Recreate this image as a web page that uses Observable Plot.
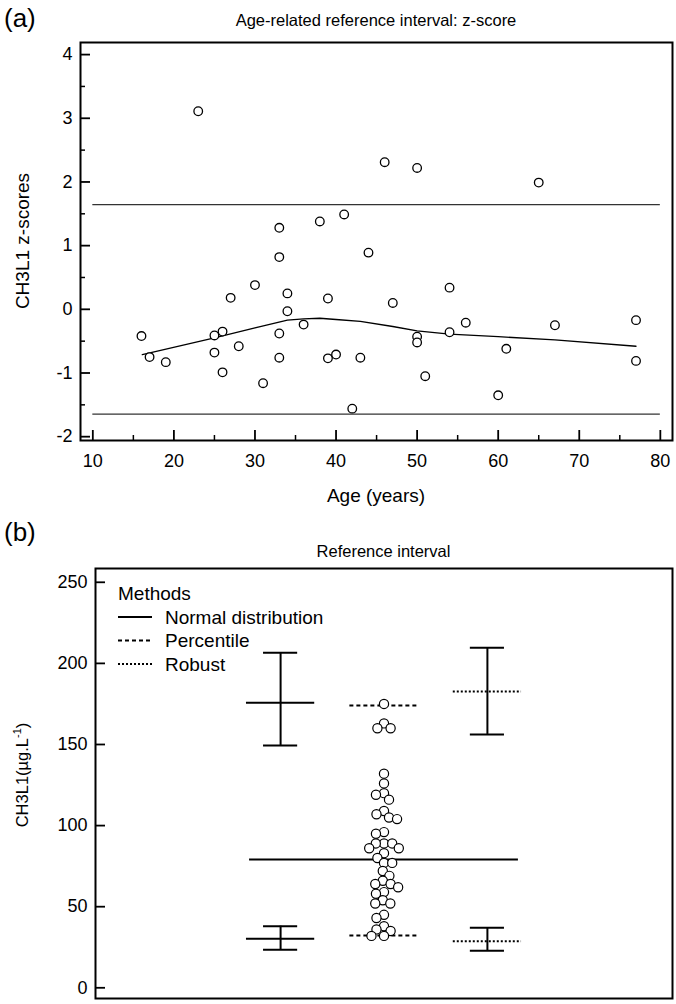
<!DOCTYPE html>
<html><head><meta charset="utf-8">
<script src="https://cdn.jsdelivr.net/npm/d3@7"></script>
<script src="https://cdn.jsdelivr.net/npm/@observablehq/plot@0.6"></script>
<style>
body{margin:0;background:#fff;}
#root{position:relative;width:676px;height:1004px;background:#fff;}
#root svg{position:absolute;left:0;overflow:visible;max-width:none;}
</style></head><body><div id="root"></div>
<script>
// ---------- Panel (a) data ----------
const ages = [16,17,19,23,25,25,26,26,27,28,30,31,33,33,33,33,34,34,36,38,39,39,40,41,42,43,44,46,47,50,50,50,51,54,54,56,60,61,65,67,77,77];
const zscores = [-0.42,-0.75,-0.83,3.11,-0.41,-0.68,-0.35,-0.99,0.18,-0.58,0.38,-1.16,1.28,0.82,-0.38,-0.76,0.25,-0.03,-0.24,1.38,0.17,-0.77,-0.71,1.49,-1.56,-0.76,0.89,2.31,0.10,2.22,-0.43,-0.52,-1.05,0.34,-0.36,-0.21,-1.35,-0.62,1.99,-0.25,-0.17,-0.81];
const smoothAge = [16.1,25,30,34,36,38,40,43,47,50,54,60,67,77];
const smoothZ = [-0.71,-0.45,-0.29,-0.17,-0.15,-0.14,-0.16,-0.19,-0.27,-0.34,-0.39,-0.43,-0.48,-0.58];
const refLimits = [-1.645, 1.645];
const refAgeRange = [10, 80];
const xMajorA = [10,20,30,40,50,60,70,80];
const xMinorA = [15,25,35,45,55,65,75];
const yMajorA = [-2,-1,0,1,2,3,4];
const yMinorA = [-1.5,-0.5,0.5,1.5,2.5,3.5];

// ---------- Panel (b) data ----------
const methods = ["Normal distribution","Percentile","Robust"];
const methodPos = [1,2,3];
const lowerLimit = [30.2, 32.2, 28.7];
const upperLimit = [175.7, 174.0, 182.7];
const ciMethods = ["Normal distribution","Robust"];
const ciPos = [1,3];
const lowerCILo = [23.4, 22.8];
const lowerCIHi = [38.0, 37.0];
const upperCILo = [149.4, 156.2];
const upperCIHi = [206.5, 209.6];
const centralValue = [79.1];
const values = [175,163,160,160,132,126,120,119,116,109,107,105,104,96,95,89,89,89,86,86,83,80,77,77,72,69,66,64,64,62,59,58,54,52,52,45,43,38,36,35,32,32];
const yTicksB = [0,50,100,150,200,250];

// ---------- styles ----------
const FONT = '"Liberation Sans", Arial, Helvetica, sans-serif';
const dashes = [null, "4,3", "2,2"];
const limitHalf = 0.33, capHalf = 0.165;
const centralSpan = [0.70, 3.30];
const TICK_FS = 18, LABEL_FS = 19, TITLE_FS = 16.5;

const root = document.getElementById("root");
const fmt = d => String(d);

// ---------- Panel (a) ----------
const A = {w: 676, h: 520, mt: 42, mb: 80, ml: 80, mr: 4};
const fwA = A.w - A.ml - A.mr, fhA = A.h - A.mt - A.mb;
const idxA = d3.range(ages.length);
const idxS = d3.range(smoothAge.length);
const plotA = Plot.plot({
  width: A.w, height: A.h,
  marginTop: A.mt, marginBottom: A.mb, marginLeft: A.ml, marginRight: A.mr,
  style: {fontFamily: FONT, fontSize: TICK_FS + "px", color: "black", background: "white"},
  x: {domain: [8.48, 81.5]},
  y: {domain: [-2.06, 4.19]},
  marks: [
    Plot.ruleY(refLimits, {y: d => d, x1: () => refAgeRange[0], x2: () => refAgeRange[1], stroke: "#333", strokeWidth: 1.3}),
    Plot.line(idxS, {x: i => smoothAge[i], y: i => smoothZ[i], stroke: "black", strokeWidth: 1.3}),
    Plot.dot(idxA, {x: i => ages[i], y: i => zscores[i], r: 4.3, fill: "white", stroke: "black", strokeWidth: 1.3}),
    Plot.tickY(yMajorA, {y: d => d, insetRight: fwA - 10, strokeWidth: 1.8}),
    Plot.tickY(yMinorA, {y: d => d, insetRight: fwA - 5, strokeWidth: 1.5}),
    Plot.tickX(xMajorA, {x: d => d, insetTop: fhA - 10, strokeWidth: 1.8}),
    Plot.tickX(xMinorA, {x: d => d, insetTop: fhA - 5, strokeWidth: 1.5}),
    Plot.axisY(yMajorA, {tickSize: 0, tickPadding: 8, label: null, fontSize: TICK_FS, tickFormat: fmt}),
    Plot.axisX(xMajorA, {tickSize: 0, tickPadding: 14, label: null, fontSize: TICK_FS, tickFormat: fmt}),
    Plot.frame({stroke: "black", strokeWidth: 2})
  ]
});
plotA.style.top = "0px";
root.appendChild(plotA);
const sa = d3.select(plotA);
const txt = (sel) => sel.append("text").attr("font-family", FONT).attr("fill", "black");
txt(sa).attr("x", 4).attr("y", 27).attr("font-size", 26).attr("text-anchor", "start").text("(a)");
txt(sa).attr("x", A.ml + fwA/2).attr("y", 26).attr("font-size", TITLE_FS).attr("text-anchor", "middle").text("Age-related reference interval: z-score");
txt(sa).attr("x", A.ml + fwA/2).attr("y", 502).attr("font-size", LABEL_FS).attr("text-anchor", "middle").text("Age (years)");
txt(sa).attr("transform", `translate(22,${A.mt + fhA/2}) rotate(-90)`).attr("dy", "0.35em").attr("font-size", LABEL_FS).attr("text-anchor", "middle").text("CH3L1 z-scores");

// ---------- Panel (b) ----------
const B = {top: 520, w: 676, h: 484, mt: 48, mb: 6, ml: 95, mr: 4};
const fwB = B.w - B.ml - B.mr, fhB = B.h - B.mt - B.mb;
const limitMarks = methods.map((m, i) =>
  Plot.ruleY([lowerLimit[i], upperLimit[i]], {y: d => d, x1: () => methodPos[i] - limitHalf, x2: () => methodPos[i] + limitHalf, stroke: "black", strokeWidth: 2, strokeDasharray: dashes[i]})
);
const ciIdx = d3.range(ciMethods.length);
const plotB = Plot.plot({
  width: B.w, height: B.h,
  marginTop: B.mt, marginBottom: B.mb, marginLeft: B.ml, marginRight: B.mr,
  style: {fontFamily: FONT, fontSize: TICK_FS + "px", color: "black", background: "white"},
  x: {domain: [-0.79, 4.79], axis: null},
  y: {domain: [-6.6, 258.5]},
  marks: [
    Plot.ruleX(ciIdx, {x: i => ciPos[i], y1: i => lowerCILo[i], y2: i => lowerCIHi[i], stroke: "black", strokeWidth: 2}),
    Plot.ruleX(ciIdx, {x: i => ciPos[i], y1: i => upperCILo[i], y2: i => upperCIHi[i], stroke: "black", strokeWidth: 2}),
    Plot.ruleY(ciIdx.flatMap(i => [[i, lowerCILo[i]], [i, lowerCIHi[i]], [i, upperCILo[i]], [i, upperCIHi[i]]]),
      {y: d => d[1], x1: d => ciPos[d[0]] - capHalf, x2: d => ciPos[d[0]] + capHalf, stroke: "black", strokeWidth: 2}),
    ...limitMarks,
    Plot.ruleY(centralValue, {y: d => d, x1: () => centralSpan[0], x2: () => centralSpan[1], stroke: "black", strokeWidth: 2}),
    Plot.dot(values, Plot.dodgeX({anchor: "middle", padding: -1, y: d => d, r: 4.6, fill: "white", stroke: "black", strokeWidth: 1.2})),
    Plot.tickY(yTicksB, {y: d => d, insetRight: fwB - 10, strokeWidth: 1.8}),
    Plot.axisY(yTicksB, {tickSize: 0, tickPadding: 8, label: null, fontSize: TICK_FS, tickFormat: fmt}),
    Plot.frame({stroke: "black", strokeWidth: 2})
  ]
});
plotB.style.top = B.top + "px";
root.appendChild(plotB);
const sb = d3.select(plotB);
txt(sb).attr("x", 4).attr("y", 21).attr("font-size", 26).attr("text-anchor", "start").text("(b)");
txt(sb).attr("x", B.ml + fwB/2).attr("y", 37).attr("font-size", TITLE_FS).attr("text-anchor", "middle").text("Reference interval");
const yl = txt(sb).attr("transform", `translate(22,${255}) rotate(-90)`).attr("dy", "0.35em").attr("font-size", 16.5).attr("text-anchor", "middle");
yl.append("tspan").text("CH3L1(\u00B5g.L");
yl.append("tspan").attr("font-size", 11).attr("dy", "-0.6em").text("-1");
yl.append("tspan").attr("dy", "0.4em").text(")");
// legend
const lg = sb.append("g").attr("font-family", FONT).attr("font-size", LABEL_FS).attr("text-anchor", "start").attr("fill", "black");
lg.append("text").attr("x", 118).attr("y", 73).attr("dy", "0.35em").text("Methods");
methods.forEach((m, i) => {
  const y = 97 + i * 23.5;
  lg.append("line").attr("x1", 118).attr("x2", 152).attr("y1", y).attr("y2", y).attr("stroke", "black").attr("stroke-width", 2).attr("stroke-dasharray", dashes[i]);
  lg.append("text").attr("x", 165).attr("y", y).attr("dy", "0.35em").text(m);
});
</script>
</body></html>
